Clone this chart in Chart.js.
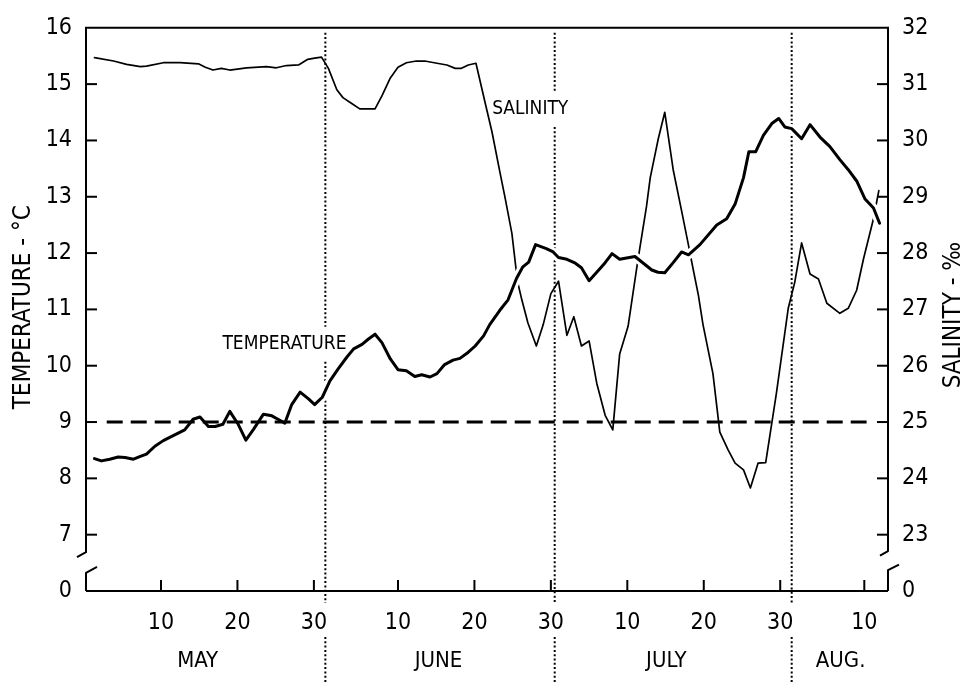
<!DOCTYPE html>
<html><head><meta charset="utf-8">
<script src="https://cdn.jsdelivr.net/npm/chart.js@4.4.1/dist/chart.umd.min.js"></script>
<style>html,body{margin:0;padding:0;background:#fff;}#wrap{width:963px;height:687px;}</style>
</head><body><div id="wrap"><canvas id="c" width="963" height="687"></canvas></div>
<script>
// ---- data (days counted from 30 April: May 1 = 1) ----
const tempDays = [1.3,2.2,3.3,4.4,5.3,6.4,7.3,8.1,9.2,10.3,11.6,13.1,14.2,15.1,16.2,17.1,18.1,19.0,20.1,21.1,22.1,23.4,24.5,25.3,26.2,27.1,28.2,29.3,30.1,31.1,32.1,33.2,34.3,35.2,36.3,37.1,38.0,38.9,40.0,41.0,42.1,43.2,44.1,45.2,46.1,47.1,48.2,49.1,50.2,51.1,52.2,53.0,54.3,55.4,56.5,57.3,58.1,59.0,60.4,61.3,62.0,63.1,64.2,65.0,66.0,67.0,68.1,69.0,70.0,72.0,73.1,74.2,75.0,75.9,77.0,78.1,79.0,80.5,82.7,84.0,85.1,86.2,86.9,87.8,88.8,89.9,90.8,91.6,92.5,93.8,94.9,96.2,97.5,98.8,99.9,101.0,102.1,103.2,104.0];
const tempValues = [8.35,8.31,8.34,8.38,8.37,8.34,8.39,8.43,8.57,8.67,8.76,8.86,9.05,9.09,8.92,8.92,8.96,9.19,8.96,8.68,8.87,9.14,9.11,9.05,8.98,9.31,9.53,9.41,9.31,9.44,9.73,9.95,10.15,10.30,10.38,10.47,10.56,10.41,10.12,9.93,9.91,9.81,9.84,9.80,9.86,10.02,10.10,10.13,10.24,10.35,10.53,10.73,10.98,11.17,11.55,11.75,11.84,12.15,12.08,12.02,11.92,11.89,11.82,11.74,11.51,11.66,11.83,11.99,11.89,11.94,11.82,11.70,11.66,11.65,11.83,12.02,11.97,12.15,12.50,12.61,12.87,13.34,13.80,13.80,14.09,14.30,14.39,14.24,14.21,14.03,14.28,14.06,13.89,13.66,13.48,13.28,12.96,12.80,12.53];
const salDays = [1.3,3.8,5.5,7.3,8.1,10.3,12.5,14.9,15.8,16.8,17.9,19.0,21.2,23.8,25.1,26.4,28.0,29.2,30.1,31.0,31.9,33.0,33.8,34.9,36.0,38.0,38.9,40.0,41.0,42.1,43.4,44.5,46.1,47.4,48.5,49.3,50.2,51.2,52.4,53.3,54.3,55.0,55.9,56.4,56.7,57.2,58.0,59.1,60.0,61.0,62.0,63.1,64.0,65.0,66.0,67.0,68.1,69.1,70.0,71.1,71.7,72.4,73.5,74.0,75.05,75.9,77.0,78.1,79.0,79.4,80.3,80.9,82.2,83.1,84.2,85.1,86.2,87.1,88.1,89.1,90.5,92.05,92.9,93.8,94.9,96.0,97.1,98.8,99.9,101.0,101.9,103.2,103.9];
const salValues = [31.47,31.41,31.35,31.31,31.32,31.38,31.38,31.36,31.30,31.25,31.28,31.25,31.29,31.31,31.29,31.33,31.34,31.44,31.46,31.48,31.28,30.90,30.76,30.66,30.56,30.56,30.79,31.11,31.30,31.38,31.41,31.41,31.37,31.34,31.28,31.28,31.34,31.37,30.67,30.15,29.46,28.99,28.35,27.77,27.46,27.17,26.76,26.35,26.73,27.28,27.50,26.54,26.87,26.35,26.44,25.69,25.12,24.86,26.21,26.70,27.25,27.89,28.82,29.34,30.03,30.50,29.48,28.75,28.14,27.86,27.25,26.73,25.86,24.82,24.50,24.27,24.15,23.83,24.27,24.28,25.51,27.02,27.48,28.18,27.63,27.54,27.11,26.93,27.02,27.34,27.90,28.61,29.11];
const refDays = [2.9, 102.3];
const refTemp = [9, 9];

const xTickDays = [10,20,30,41,51,61,71,81,91,102];
const xTickLabels = ['10','20','30','10','20','30','10','20','30','10'];
const tempTicks = [6,7,8,9,10,11,12,13,14,15,16];
const tempTickLabels = ['0','7','8','9','10','11','12','13','14','15','16'];
const salTicks = [22,23,24,25,26,27,28,29,30,31,32];
const salTickLabels = ['0','23','24','25','26','27','28','29','30','31','32'];
const monthNames = ['MAY','JUNE','JULY','AUG.'];
const monthCenters = [14.8, 46.3, 76.1, 98.9];
const monthDividers = [31.5, 61.5, 92.5];

// ---- annotation placement (not data) ----
const inlineLabels = [
  {text:'SALINITY', day:58.3, value:30.55, axis:'yS'},
  {text:'TEMPERATURE', day:26.15, value:10.38, axis:'yT'}
];
const FONT = "'Liberation Sans Narrow', 'DejaVu Sans Condensed', 'Arial Narrow', sans-serif";
Chart.defaults.font.family = FONT;
Chart.defaults.color = '#000';

const pts = (xs, ys) => xs.map((x, i) => ({x: x, y: ys[i]}));

function line(ctx, pts) {
  ctx.beginPath();
  ctx.moveTo(pts[0][0], pts[0][1]);
  for (let i = 1; i < pts.length; i++) ctx.lineTo(pts[i][0], pts[i][1]);
  ctx.stroke();
}

function labelBoxes(chart) {
  const ctx = chart.ctx;
  ctx.save();
  ctx.font = '19px ' + FONT;
  const out = inlineLabels.map(l => {
    const cx = chart.scales.x.getPixelForValue(l.day);
    const cy = chart.scales[l.axis].getPixelForValue(l.value);
    const w = ctx.measureText(l.text).width;
    return {l: cx - w/2 - 2, r: cx + w/2 + 2, t: cy - 17.5, b: cy + 17.5, cx: cx, cy: cy, text: l.text};
  });
  ctx.restore();
  return out;
}

const decor = {
  id: 'decor',
  beforeDatasetsDraw(chart) {
    const ctx = chart.ctx, a = chart.chartArea, x = chart.scales.x;
    const boxes = labelBoxes(chart);
    ctx.save();
    ctx.strokeStyle = '#000';
    ctx.lineWidth = 2;
    ctx.setLineDash([2, 2.3]);
    monthDividers.forEach(d => {
      const px = x.getPixelForValue(d);
      let segs = [[a.top + 5, a.bottom + 12], [a.bottom + 46, a.bottom + 91]];
      boxes.forEach(b => {
        if (px > b.l && px < b.r) {
          const ns = [];
          segs.forEach(s => {
            if (b.b <= s[0] || b.t >= s[1]) { ns.push(s); return; }
            if (b.t > s[0]) ns.push([s[0], b.t]);
            if (b.b < s[1]) ns.push([b.b, s[1]]);
          });
          segs = ns;
        }
      });
      segs.forEach(s => line(ctx, [[px, s[0]], [px, s[1]]]));
    });
    ctx.restore();
  },
  afterDraw(chart) {
    const ctx = chart.ctx, a = chart.chartArea;
    const x = chart.scales.x, yT = chart.scales.yT, yS = chart.scales.yS;
    const L = a.left, R = a.right, T = a.top, B = a.bottom;
    ctx.save();
    ctx.strokeStyle = '#000';
    ctx.fillStyle = '#000';
    ctx.lineWidth = 2;
    ctx.lineCap = 'butt';
    ctx.lineJoin = 'round';
    ctx.setLineDash([]);
    // frame top and bottom
    line(ctx, [[L - 1, T], [R + 1, T]]);
    line(ctx, [[L, B], [R, B]]);
    // left axis with break
    line(ctx, [[L, T], [L, yT.getPixelForValue(6.69)], [L - 9, yT.getPixelForValue(6.6)]]);
    line(ctx, [[L + 11, yT.getPixelForValue(6.43)], [L, yT.getPixelForValue(6.32)], [L, B]]);
    // right axis with break
    line(ctx, [[R, T], [R, yS.getPixelForValue(22.71)], [R - 8, yS.getPixelForValue(22.63)]]);
    line(ctx, [[R + 11, yS.getPixelForValue(22.47)], [R, yS.getPixelForValue(22.37)], [R, B]]);
    // inward tick marks
    tempTicks.slice(1, -1).forEach(v => { const py = yT.getPixelForValue(v); line(ctx, [[L, py], [L + 11, py]]); });
    salTicks.slice(1, -1).forEach(v => { const py = yS.getPixelForValue(v); line(ctx, [[R - 11, py], [R, py]]); });
    xTickDays.forEach(d => { const px = x.getPixelForValue(d); line(ctx, [[px, B], [px, B - 11]]); });
    // month names
    ctx.textAlign = 'center';
    ctx.textBaseline = 'middle';
    ctx.font = '22px ' + FONT;
    monthNames.forEach((m, i) => ctx.fillText(m, x.getPixelForValue(monthCenters[i]), B + 70));
    // inline labels
    ctx.font = '19px ' + FONT;
    labelBoxes(chart).forEach(b => ctx.fillText(b.text, b.cx, b.cy));
    // axis titles
    ctx.font = '24px ' + FONT;
    ctx.save();
    ctx.translate(L - 62, yT.getPixelForValue(11.04));
    ctx.rotate(-Math.PI / 2);
    ctx.fillText('TEMPERATURE - °C', 0, 0);
    ctx.restore();
    ctx.save();
    ctx.translate(R + 66, yS.getPixelForValue(26.9));
    ctx.rotate(-Math.PI / 2);
    ctx.fillText('SALINITY - ‰', 0, 0);
    ctx.restore();
    ctx.restore();
  }
};

new Chart(document.getElementById('c'), {
  type: 'line',
  data: {
    datasets: [
      {label: '9 °C / 25 ‰', data: pts(refDays, refTemp), yAxisID: 'yT', borderColor: '#000', borderWidth: 3, borderDash: [16, 8], borderCapStyle: 'butt', order: -1},
      {label: 'Temperature', data: pts(tempDays, tempValues), yAxisID: 'yT', borderColor: '#000', borderWidth: 3, order: 0},
      {label: 'gap', data: pts(tempDays, tempValues), yAxisID: 'yT', borderColor: '#fff', borderWidth: 9, order: 1},
      {label: 'Salinity', data: pts(salDays, salValues), yAxisID: 'yS', borderColor: '#000', borderWidth: 1.7, order: 2}
    ]
  },
  options: {
    responsive: false,
    animation: false,
    devicePixelRatio: 1,
    layout: {padding: {top: 17, left: 0, right: 0, bottom: 0}},
    plugins: {legend: {display: false}, tooltip: {enabled: false}},
    elements: {point: {radius: 0}, line: {tension: 0, borderJoinStyle: 'round', borderCapStyle: 'round'}},
    scales: {
      x: {
        type: 'linear', position: 'bottom', min: 0.19, max: 105.1,
        grid: {display: false, drawTicks: false}, border: {display: false},
        afterBuildTicks: s => { s.ticks = xTickDays.map(v => ({value: v})); },
        afterFit: s => { s.height = 96; },
        ticks: {autoSkip: false, maxRotation: 0, padding: 18, font: {size: 23},
          callback: v => { const i = xTickDays.indexOf(v); return i >= 0 ? xTickLabels[i] : ''; }}
      },
      yT: {
        type: 'linear', position: 'left', min: 6, max: 16,
        grid: {display: false, drawTicks: false}, border: {display: false},
        afterBuildTicks: s => { s.ticks = tempTicks.map(v => ({value: v})); },
        afterFit: s => { s.width = 86; },
        ticks: {autoSkip: false, padding: 14, font: {size: 23},
          callback: v => { const i = tempTicks.indexOf(v); return i >= 0 ? tempTickLabels[i] : ''; }}
      },
      yS: {
        type: 'linear', position: 'right', min: 22, max: 32,
        grid: {display: false, drawTicks: false}, border: {display: false},
        afterBuildTicks: s => { s.ticks = salTicks.map(v => ({value: v})); },
        afterFit: s => { s.width = 75; },
        ticks: {autoSkip: false, padding: 14, font: {size: 23},
          callback: v => { const i = salTicks.indexOf(v); return i >= 0 ? salTickLabels[i] : ''; }}
      }
    }
  },
  plugins: [decor]
});
</script>
</body></html>
